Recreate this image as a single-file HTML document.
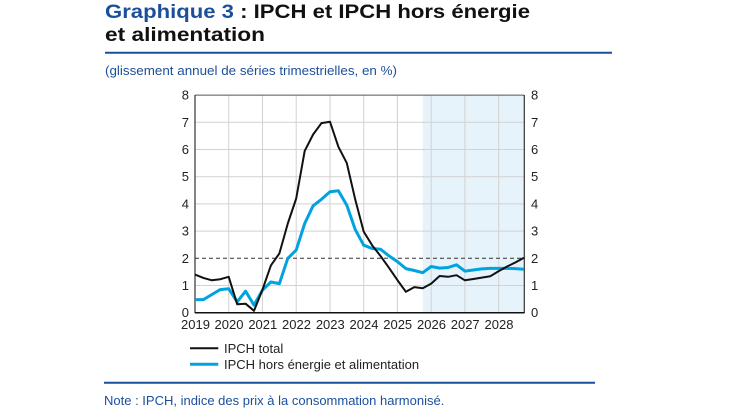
<!DOCTYPE html>
<html><head><meta charset="utf-8"><style>
html,body{margin:0;padding:0;background:#fff;}
svg{display:block;}
text{font-family:"Liberation Sans",Arial,sans-serif;}
</style></head><body>
<svg width="730" height="410" viewBox="0 0 730 410" xmlns="http://www.w3.org/2000/svg">
<rect width="730" height="410" fill="#fff"/>
<!-- Title -->
<text x="105" y="18" font-size="19.5" font-weight="bold" textLength="425" lengthAdjust="spacingAndGlyphs"><tspan fill="#1b4f9c">Graphique 3</tspan><tspan fill="#111"> : IPCH et IPCH hors énergie</tspan></text>
<text x="105" y="41" font-size="19.5" font-weight="bold" fill="#111" textLength="160" lengthAdjust="spacingAndGlyphs">et alimentation</text>
<line x1="105" y1="52.7" x2="612" y2="52.7" stroke="#1b4f9c" stroke-width="2"/>
<text x="105" y="75" font-size="13" fill="#1b4f9c" textLength="292" lengthAdjust="spacingAndGlyphs">(glissement annuel de séries trimestrielles, en %)</text>

<!-- shading -->
<rect x="422.7" y="95.1" width="101.3" height="217.6" fill="#e6f3fb"/>
<!-- grid -->
<g stroke="#d2d2d2" stroke-width="1">
<line x1="195" y1="285.5" x2="524" y2="285.5"/>
<line x1="195" y1="231.1" x2="524" y2="231.1"/>
<line x1="195" y1="203.9" x2="524" y2="203.9"/>
<line x1="195" y1="176.7" x2="524" y2="176.7"/>
<line x1="195" y1="149.5" x2="524" y2="149.5"/>
<line x1="195" y1="122.3" x2="524" y2="122.3"/>
<line x1="228.7" y1="95" x2="228.7" y2="312.7"/>
<line x1="262.5" y1="95" x2="262.5" y2="312.7"/>
<line x1="296.2" y1="95" x2="296.2" y2="312.7"/>
<line x1="330.0" y1="95" x2="330.0" y2="312.7"/>
<line x1="363.7" y1="95" x2="363.7" y2="312.7"/>
<line x1="397.4" y1="95" x2="397.4" y2="312.7"/>
<line x1="431.2" y1="95" x2="431.2" y2="312.7"/>
<line x1="464.9" y1="95" x2="464.9" y2="312.7"/>
<line x1="498.7" y1="95" x2="498.7" y2="312.7"/>
</g>
<line x1="195" y1="258.3" x2="524" y2="258.3" stroke="#333" stroke-width="1" stroke-dasharray="4,3"/>
<!-- frame -->
<line x1="195" y1="95.1" x2="524" y2="95.1" stroke="#555" stroke-width="1"/>
<line x1="195" y1="95" x2="195" y2="313" stroke="#333" stroke-width="1.2"/>
<line x1="524.3" y1="95" x2="524.3" y2="313" stroke="#333" stroke-width="1.2"/>

<!-- blue series -->
<polyline fill="none" stroke="#00a3e0" stroke-width="3" stroke-linejoin="round" points="195.0,299.6 203.4,299.6 211.9,294.5 220.3,289.6 228.7,288.8 237.2,301.8 245.6,291.2 254.0,305.1 262.5,290.1 270.9,282.0 279.4,283.6 287.8,258.3 296.2,250.1 304.7,223.5 313.1,205.8 321.5,199.3 330.0,191.7 338.4,190.8 346.8,205.3 355.3,229.7 363.7,245.2 372.1,248.5 380.6,249.3 389.0,255.9 397.4,261.6 405.9,268.6 414.3,270.5 422.7,272.7 431.2,266.5 439.6,268.1 448.1,267.5 456.5,264.8 464.9,271.1 473.4,270.0 481.8,268.9 490.2,268.4 498.7,268.4 507.1,268.4 515.5,268.6 524.0,269.2"/>
<!-- black series -->
<polyline fill="none" stroke="#111" stroke-width="2" stroke-linejoin="round" points="195.0,274.6 203.4,277.9 211.9,280.3 220.3,279.2 228.7,276.8 237.2,304.3 245.6,303.7 254.0,310.8 262.5,289.6 270.9,265.4 279.4,253.4 287.8,223.5 296.2,198.5 304.7,150.9 313.1,134.5 321.5,123.1 330.0,121.8 338.4,146.8 346.8,163.1 355.3,199.8 363.7,231.6 372.1,245.2 380.6,256.1 389.0,267.8 397.4,280.1 405.9,291.8 414.3,287.1 422.7,288.2 431.2,283.6 439.6,276.0 448.1,276.8 456.5,275.2 464.9,280.3 473.4,279.0 481.8,277.6 490.2,276.3 498.7,271.1 507.1,266.5 515.5,262.4 524.0,257.8"/>

<line x1="195" y1="312.7" x2="524.5" y2="312.7" stroke="#111" stroke-width="1.5"/>

<!-- y labels -->
<g font-size="13" fill="#222" text-anchor="end">
<text x="189" y="317.2">0</text>
<text x="189" y="290">1</text>
<text x="189" y="262.8">2</text>
<text x="189" y="235.6">3</text>
<text x="189" y="208.4">4</text>
<text x="189" y="181.2">5</text>
<text x="189" y="154">6</text>
<text x="189" y="126.8">7</text>
<text x="189" y="99.6">8</text>
</g>
<g font-size="13" fill="#222">
<text x="531" y="317.2">0</text>
<text x="531" y="290">1</text>
<text x="531" y="262.8">2</text>
<text x="531" y="235.6">3</text>
<text x="531" y="208.4">4</text>
<text x="531" y="181.2">5</text>
<text x="531" y="154">6</text>
<text x="531" y="126.8">7</text>
<text x="531" y="99.6">8</text>
</g>
<!-- x labels -->
<g font-size="13" fill="#222" text-anchor="middle">
<text x="195.5" y="329">2019</text>
<text x="229" y="329">2020</text>
<text x="262.8" y="329">2021</text>
<text x="296.5" y="329">2022</text>
<text x="330.3" y="329">2023</text>
<text x="364" y="329">2024</text>
<text x="397.7" y="329">2025</text>
<text x="431.5" y="329">2026</text>
<text x="465.2" y="329">2027</text>
<text x="499" y="329">2028</text>
</g>

<!-- legend -->
<line x1="190" y1="348.3" x2="218.3" y2="348.3" stroke="#111" stroke-width="2"/>
<text x="224" y="353" font-size="13" fill="#222">IPCH total</text>
<line x1="190" y1="364.3" x2="218.3" y2="364.3" stroke="#00a3e0" stroke-width="3"/>
<text x="224" y="369" font-size="13" fill="#222">IPCH hors énergie et alimentation</text>

<line x1="104" y1="382.7" x2="595" y2="382.7" stroke="#1b4f9c" stroke-width="2"/>
<text x="104" y="405" font-size="13" fill="#1b4f9c">Note : IPCH, indice des prix à la consommation harmonisé.</text>
</svg>
</body></html>
